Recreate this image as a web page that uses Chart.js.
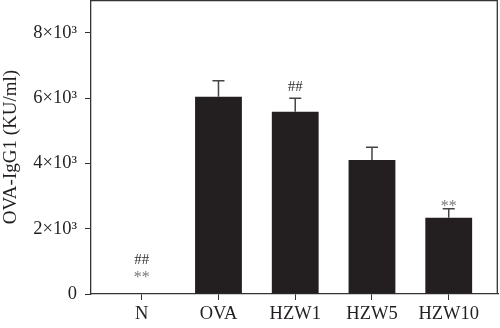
<!DOCTYPE html>
<html lang="en">
<head>
<meta charset="UTF-8">
<title>OVA-IgG1</title>
<script src="https://cdn.jsdelivr.net/npm/chart.js"></script>
<style>
  html, body { margin: 0; padding: 0; background: #fff; }
  #wrap { width: 500px; height: 328px; }
</style>
</head>
<body>
<div id="wrap"><canvas id="myChart"></canvas></div>
<script>
const categories = ['N', 'OVA', 'HZW1', 'HZW5', 'HZW10'];
const means = [0, 6040, 5580, 4100, 2335];
const errors = [0, 490, 410, 390, 275];
const hashMarks = ['##', '', '##', '', ''];
const starMarks = ['**', '', '', '', '**'];
const yTicks = [0, 2000, 4000, 6000, 8000];

const serif = '"Liberation Serif", "Times New Roman", serif';
const ink = '#231f20';

const boxAndErrors = {
  id: 'boxAndErrors',
  afterDatasetsDraw(chart) {
    const ctx = chart.ctx;
    const xs = chart.scales.x, ys = chart.scales.y;
    const a = chart.chartArea;
    ctx.save();
    // frame top and right
    ctx.strokeStyle = '#333';
    ctx.lineWidth = 1.3;
    ctx.beginPath();
    ctx.moveTo(a.left, a.top + 0.7);
    ctx.lineTo(a.right - 0.7, a.top + 0.7);
    ctx.lineTo(a.right - 0.7, a.bottom);
    ctx.stroke();

    // error bars (upper only)
    ctx.strokeStyle = '#444';
    ctx.lineWidth = 1.5;
    means.forEach((m, i) => {
      if (!errors[i]) return;
      const x = xs.getPixelForValue(i);
      const y1 = ys.getPixelForValue(m);
      const y2 = ys.getPixelForValue(m + errors[i]);
      ctx.beginPath();
      ctx.moveTo(x, y1);
      ctx.lineTo(x, y2);
      ctx.moveTo(x - 6, y2);
      ctx.lineTo(x + 6, y2);
      ctx.stroke();
    });

    // significance marks
    ctx.textAlign = 'center';
    ctx.textBaseline = 'alphabetic';
    const y0 = ys.getPixelForValue(0);
    categories.forEach((c, i) => {
      const x = xs.getPixelForValue(i);
      const top = ys.getPixelForValue(means[i] + errors[i]);
      if (i === 0) {
        ctx.font = '15px ' + serif;
        ctx.fillStyle = '#333';
        ctx.fillText(hashMarks[i], x, y0 - 30);
        ctx.font = '16px ' + serif;
        ctx.fillStyle = '#777';
        ctx.fillText(starMarks[i], x, y0 - 12);
        return;
      }
      if (hashMarks[i]) {
        ctx.font = '15px ' + serif;
        ctx.fillStyle = '#333';
        ctx.fillText(hashMarks[i], x, top - 7);
      }
      if (starMarks[i]) {
        ctx.font = '16px ' + serif;
        ctx.fillStyle = '#777';
        ctx.fillText(starMarks[i], x, top + 2);
      }
    });
    ctx.restore();
  }
};

const ctx = document.getElementById('myChart');

new Chart(ctx, {
  type: 'bar',
  data: {
    datasets: [{
      data: means.map((v, i) => ({ x: i, y: v })),
      backgroundColor: ink,
      borderWidth: 0,
      categoryPercentage: 0.61,
      barPercentage: 1
    }]
  },
  options: {
    responsive: true,
    maintainAspectRatio: false,
    animation: false,
    layout: { padding: { top: 0, right: 2, left: 0, bottom: 0 } },
    plugins: { legend: { display: false }, tooltip: { enabled: false } },
    scales: {
      x: {
        type: 'linear',
        offset: false,
        min: -0.661,
        max: 4.642,
        afterBuildTicks: s => { s.ticks = categories.map((c, i) => ({ value: i })); },
        afterFit: s => { s.height = 34; s.paddingLeft = 0; s.paddingRight = 0; },
        grid: { display: true, drawOnChartArea: false, drawTicks: true, tickLength: 6, color: '#333', offset: false },
        border: { display: true, color: '#333', width: 1.3 },
        ticks: {
          autoSkip: false,
          maxRotation: 0,
          padding: 3,
          color: ink,
          font: { family: serif, size: 18.5 },
          callback: v => categories[v]
        }
      },
      y: {
        min: 0,
        max: 9000,
        afterBuildTicks: s => { s.ticks = yTicks.map(v => ({ value: v })); },
        afterFit: s => { s.width = 91; s.paddingTop = 0; s.paddingBottom = 0; },
        grid: { display: true, drawOnChartArea: false, drawTicks: true, tickLength: 6, color: '#333' },
        border: { display: true, color: '#333', width: 1.3 },
        title: {
          display: true,
          text: 'OVA-IgG1 (KU/ml)',
          color: ink,
          font: { family: serif, size: 19 },
          padding: { top: 0, bottom: 2 }
        },
        ticks: {
          padding: 8,
          color: ink,
          font: { family: serif, size: 18.5 },
          callback: v => v === 0 ? '0' : (v / 1000) + '×10³'
        }
      }
    }
  },
  plugins: [boxAndErrors]
});
</script>
</body>
</html>
